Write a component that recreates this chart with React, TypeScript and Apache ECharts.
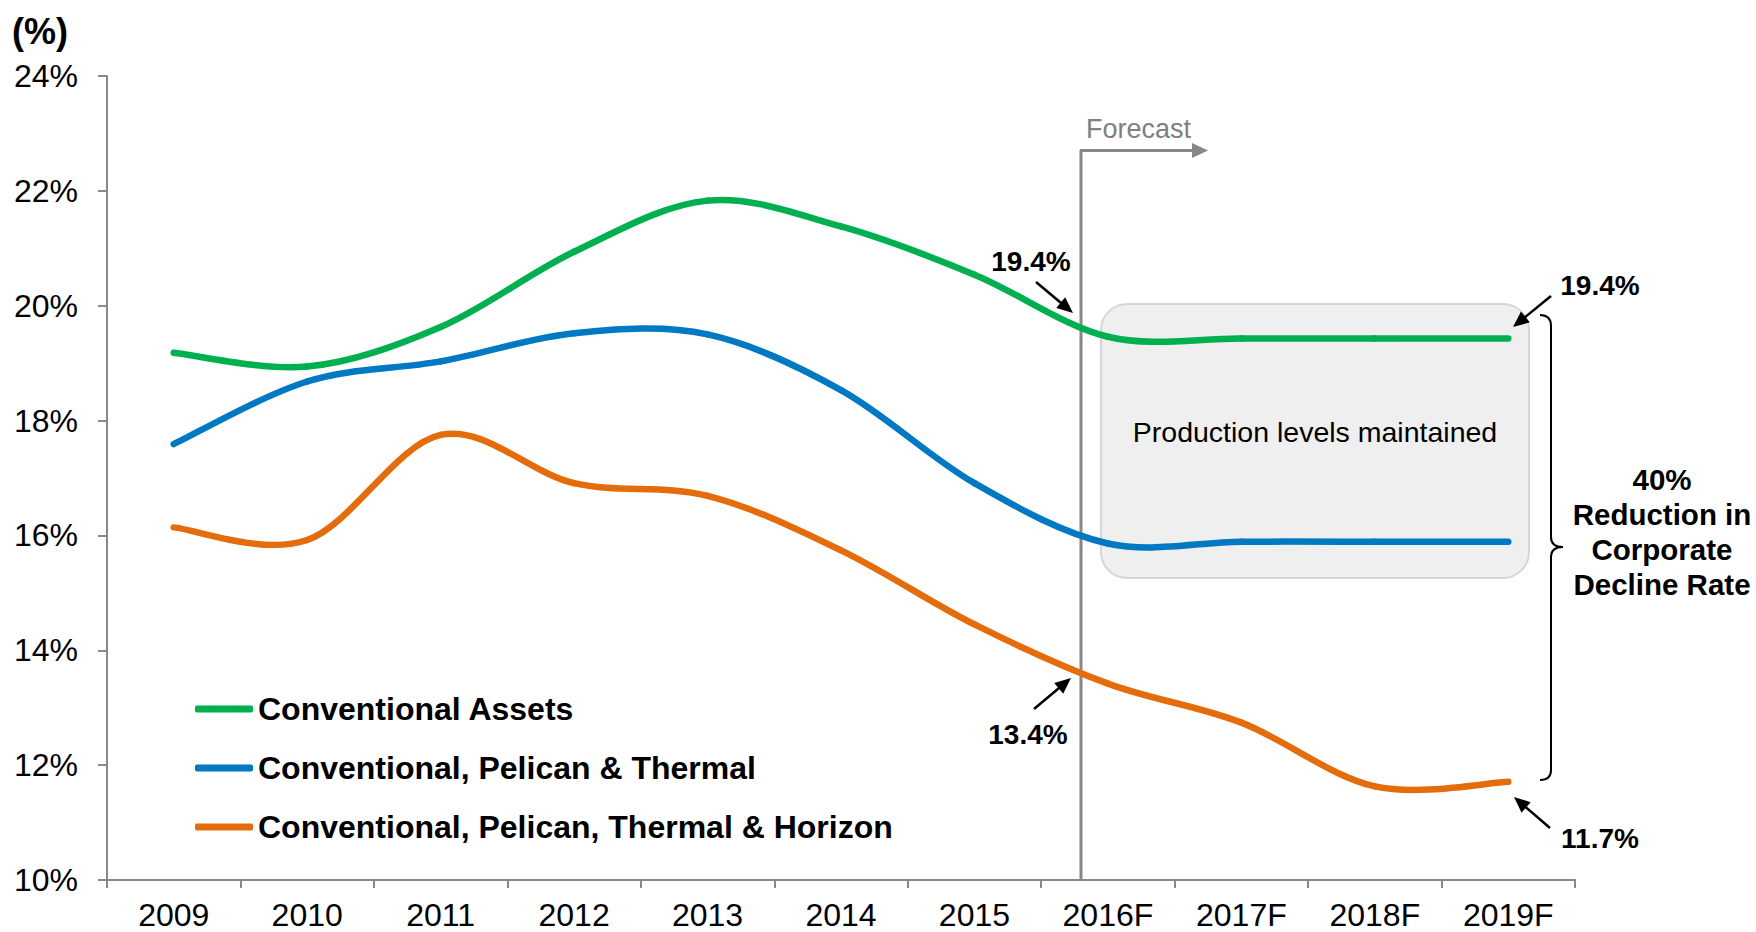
import React, { useEffect, useRef } from "react";
import * as echarts from "echarts";

const categories = ["2009", "2010", "2011", "2012", "2013", "2014", "2015", "2016F", "2017F", "2018F", "2019F"];
const seriesNames = [
  "Conventional Assets",
  "Conventional, Pelican & Thermal",
  "Conventional, Pelican, Thermal & Horizon",
];
const conventionalAssets = [19.18, 18.94, 19.63, 20.94, 21.83, 21.38, 20.54, 19.46, 19.43, 19.43, 19.43];
const pelicanThermal = [17.59, 18.68, 19.03, 19.52, 19.5, 18.53, 16.91, 15.86, 15.89, 15.89, 15.89];
const pelicanThermalHorizon = [16.14, 15.92, 17.75, 16.91, 16.69, 15.74, 14.45, 13.42, 12.74, 11.63, 11.71];
const colors = ["#00B050", "#0079C2", "#E46C0A"];
const yTicks = { min: 10, max: 24, interval: 2 };
const calloutLabels = ["19.4%", "19.4%", "13.4%", "11.7%"];
const reductionText = "40%\nReduction in\nCorporate\nDecline Rate";
const boxText = "Production levels maintained";
const forecastText = "Forecast";
const unitText = "(%)";

const FONT = "Arial, 'Liberation Sans', Helvetica, sans-serif";

const braceD =
  "M1540,315 C1547,315 1551,318 1551,326 L1551,537 C1551,544 1555,547 1563,547 C1555,547 1551,550 1551,557 L1551,770 C1551,777 1547,780 1540,780";
let registered = false;
function registerShapes() {
  if (registered) return;
  registered = true;
  echarts.graphic.registerShape("brace", echarts.graphic.extendPath(braceD, {}));
}

function arrow(x1: number, y1: number, x2: number, y2: number) {
  const ang = Math.atan2(y2 - y1, x2 - x1);
  const c = Math.cos(ang);
  const s = Math.sin(ang);
  const L = 16;
  const W = 7;
  const bx = x2 - L * c;
  const by = y2 - L * s;
  const px = -s * W;
  const py = c * W;
  return [
    {
      type: "line",
      shape: { x1, y1, x2: bx + c * 2, y2: by + s * 2 },
      style: { stroke: "#000", lineWidth: 2.5 },
    },
    {
      type: "polygon",
      shape: { points: [[x2, y2], [bx + px, by + py], [bx - px, by - py]] },
      style: { fill: "#000" },
    },
  ];
}

function boldText(text: string, x: number, y: number, size = 28) {
  return {
    type: "text",
    x,
    y,
    style: {
      text,
      fill: "#000",
      font: `bold ${size}px ${FONT}`,
      align: "center",
      verticalAlign: "middle",
    },
  };
}

// Smoothed (Catmull-Rom style) line drawn through the axis scales
function smoothSeries(name: string, values: number[], color: string) {
  return {
    name,
    type: "custom",
    z: 5,
    itemStyle: { color },
    encode: { x: 0, y: 1 },
    data: values.map((v, k) => [k, v]),
    renderItem: (params: any, api: any) => {
      const i = params.dataIndex;
      const n = values.length;
      if (i >= n - 1) return null;
      const p = (k: number) => api.coord([Math.max(0, Math.min(n - 1, k)), values[Math.max(0, Math.min(n - 1, k))]]);
      const p0 = p(i - 1);
      const p1 = p(i);
      const p2 = p(i + 1);
      const p3 = p(i + 2);
      const t = 1 / 6;
      return {
        type: "bezierCurve",
        shape: {
          x1: p1[0],
          y1: p1[1],
          x2: p2[0],
          y2: p2[1],
          cpx1: p1[0] + (p2[0] - p0[0]) * t,
          cpy1: p1[1] + (p2[1] - p0[1]) * t,
          cpx2: p2[0] - (p3[0] - p1[0]) * t,
          cpy2: p2[1] - (p3[1] - p1[1]) * t,
        },
        style: { stroke: color, lineWidth: 6.5, fill: "none", lineCap: "round" },
      };
    },
  };
}

export default function App() {
  const ref = useRef<HTMLDivElement>(null);
  useEffect(() => {
    if (!ref.current) return;
    registerShapes();
    const chart = echarts.init(ref.current, undefined, { renderer: "svg" });
    const data = [conventionalAssets, pelicanThermal, pelicanThermalHorizon];
    const axisColor = "#898989";
    chart.setOption({
      animation: false,
      backgroundColor: "#ffffff",
      textStyle: { fontFamily: FONT },
      grid: { left: 107, top: 76, right: 181, bottom: 52 },
      legend: {
        orient: "vertical",
        left: 195,
        top: 693,
        padding: 0,
        itemGap: 27,
        itemWidth: 58,
        itemHeight: 7,
        icon: "roundRect",
        selectedMode: false,
        data: seriesNames,
        textStyle: {
          fontSize: 32,
          fontWeight: "bold",
          color: "#000",
          fontFamily: FONT,
          lineHeight: 32,
        },
      },
      xAxis: {
        type: "category",
        data: categories,
        boundaryGap: true,
        axisLine: { show: true, lineStyle: { color: axisColor, width: 2 } },
        axisTick: { show: true, length: 8, interval: 0, lineStyle: { color: axisColor, width: 2 } },
        axisLabel: { fontSize: 32, color: "#000", margin: 19, interval: 0, fontFamily: FONT },
        splitLine: { show: false },
      },
      yAxis: {
        type: "value",
        min: yTicks.min,
        max: yTicks.max,
        interval: yTicks.interval,
        axisLine: { show: true, lineStyle: { color: axisColor, width: 2 } },
        axisTick: { show: true, length: 9, lineStyle: { color: axisColor, width: 2 } },
        axisLabel: { fontSize: 32, color: "#000", margin: 29, formatter: "{value}%", fontFamily: FONT },
        splitLine: { show: false },
      },
      series: seriesNames.map((name, i) => smoothSeries(name, data[i], colors[i])),
      graphic: [
        {
          type: "rect",
          shape: { x: 1101, y: 304, width: 428, height: 274, r: 26 },
          style: { fill: "#efefef", stroke: "#d6d6d6", lineWidth: 2 },
          z: 0,
        },
        {
          type: "text",
          x: 1315,
          y: 432,
          style: {
            text: boxText,
            fill: "#000",
            font: `28.5px ${FONT}`,
            align: "center",
            verticalAlign: "middle",
          },
        },
        {
          type: "line",
          shape: { x1: 1081, y1: 880, x2: 1081, y2: 150 },
          style: { stroke: "#878787", lineWidth: 3 },
        },
        {
          type: "line",
          shape: { x1: 1080, y1: 150.5, x2: 1195, y2: 150.5 },
          style: { stroke: "#878787", lineWidth: 3 },
        },
        {
          type: "polygon",
          shape: { points: [[1208, 150.5], [1192, 143], [1192, 158]] },
          style: { fill: "#878787" },
        },
        {
          type: "text",
          x: 1086,
          y: 129,
          style: {
            text: forecastText,
            fill: "#808080",
            font: `27px ${FONT}`,
            align: "left",
            verticalAlign: "middle",
          },
        },
        ...arrow(1036, 282, 1073, 313),
        ...arrow(1551, 296, 1513, 327),
        ...arrow(1034, 709, 1071, 678),
        ...arrow(1550, 828, 1514, 797),
        boldText(calloutLabels[0], 1031, 261),
        boldText(calloutLabels[1], 1600, 285),
        boldText(calloutLabels[2], 1028, 734),
        boldText(calloutLabels[3], 1600, 838),
        {
          type: "brace",
          style: { fill: "none", stroke: "#000", lineWidth: 2 },
        },
        {
          type: "text",
          x: 1662,
          y: 532,
          style: {
            text: reductionText,
            fill: "#000",
            font: `bold 29.5px ${FONT}`,
            lineHeight: 35,
            align: "center",
            verticalAlign: "middle",
          },
        },
        {
          type: "text",
          x: 40,
          y: 31,
          style: {
            text: unitText,
            fill: "#000",
            font: `bold 36px ${FONT}`,
            align: "center",
            verticalAlign: "middle",
          },
        },
      ],
    });
    return () => chart.dispose();
  }, []);
  return (
    <div
      ref={ref}
      style={{ position: "absolute", left: 0, top: 0, width: "1756px", height: "932px" }}
    />
  );
}
